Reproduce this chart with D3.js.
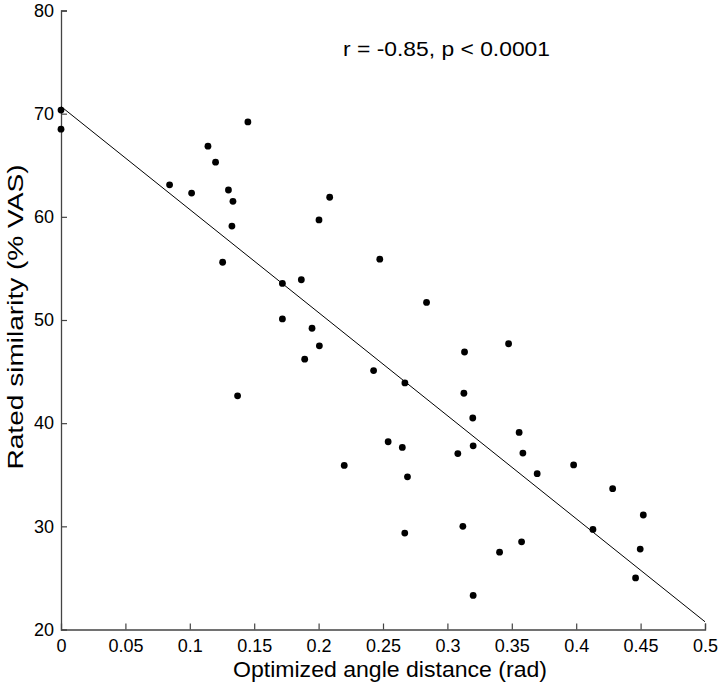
<!DOCTYPE html>
<html>
<head>
<meta charset="utf-8">
<script src="https://cdn.jsdelivr.net/npm/d3@7"></script>
<style>
  html, body { margin: 0; padding: 0; background: #fff; }
  svg { display: block; font-family: "Liberation Sans", Arial, sans-serif; }
</style>
</head>
<body>
<svg id="chart" width="723" height="688"></svg>
<script>
// ---- data ----
const xValues = [0, 0, 0.0843, 0.1014, 0.1141, 0.1200, 0.1451, 0.1300, 0.1335, 0.1327,
  0.1255, 0.1371, 0.2086, 0.2003, 0.2475, 0.1719, 0.1866, 0.2838, 0.1719, 0.1949,
  0.2006, 0.1892, 0.2427, 0.2670, 0.2540, 0.2650, 0.3475, 0.3133, 0.3128, 0.3197,
  0.3557, 0.3586, 0.3200, 0.3081, 0.3697, 0.2199, 0.2690, 0.2669, 0.3120, 0.3576,
  0.3405, 0.3200, 0.3980, 0.4283, 0.4521, 0.4130, 0.4497, 0.4461];
const yValues = [70.35, 68.5, 63.1, 62.3, 66.85, 65.3, 69.2, 62.6, 61.5, 59.1,
  55.6, 42.65, 61.9, 59.7, 55.9, 53.55, 53.9, 51.7, 50.1, 49.2,
  47.5, 46.2, 45.1, 43.9, 38.2, 37.65, 47.7, 46.9, 42.9, 40.5,
  39.1, 37.1, 37.8, 37.05, 35.1, 35.9, 34.8, 29.35, 30.0, 28.5,
  27.5, 23.3, 35.95, 33.65, 31.1, 29.7, 27.8, 25.0];
const fitX = [0, 0.5];
const fitY = [70.7, 20.75];
const xTicks = [0, 0.05, 0.1, 0.15, 0.2, 0.25, 0.3, 0.35, 0.4, 0.45, 0.5];
const yTicks = [20, 30, 40, 50, 60, 70, 80];
const xLabel = "Optimized angle distance (rad)";
const yLabel = "Rated similarity (% VAS)";
const annotation = "r = -0.85, p < 0.0001";

// ---- chart ----
const svg = d3.select("#chart");
const x = d3.scaleLinear().domain([0, 0.5]).range([61, 705]);
const y = d3.scaleLinear().domain([20, 80]).range([629.5, 10.5]);
const axisColor = "#444";

const xAxis = d3.axisBottom(x).tickValues(xTicks).tickSize(-6).tickPadding(16)
  .tickFormat(d => d3.format("")(+d.toFixed(2)));
const yAxis = d3.axisLeft(y).tickValues(yTicks).tickSize(-6).tickPadding(16);

const gx = svg.append("g").attr("transform", `translate(0,${y(20)})`).call(xAxis);
const gy = svg.append("g").attr("transform", `translate(${x(0)},0)`).call(yAxis);

[gx, gy].forEach(g => {
  g.select(".domain").attr("stroke", axisColor).attr("stroke-width", 1.3);
  g.selectAll(".tick line").attr("stroke", axisColor).attr("stroke-width", 1.2);
  g.selectAll(".tick text").attr("fill", "#000")
    .style("font-family", "'Liberation Sans', Arial, sans-serif").style("font-size", "18px");
});
gx.selectAll(".tick text").attr("dy", "0.71em").attr("y", 10);
gy.selectAll(".tick text").attr("x", -7);
// hide ticks that overlap axis lines
gx.selectAll(".tick line").filter(d => d === 0).remove();
gy.selectAll(".tick line").filter(d => d === 20).remove();

// fit line
svg.append("line")
  .attr("x1", x(fitX[0])).attr("y1", y(fitY[0]))
  .attr("x2", x(fitX[1])).attr("y2", y(fitY[1]))
  .attr("stroke", "#000").attr("stroke-width", 1);

// points
svg.append("g").selectAll("circle")
  .data(xValues.map((v, i) => [v, yValues[i]]))
  .join("circle")
  .attr("cx", d => x(d[0])).attr("cy", d => y(d[1]))
  .attr("r", 3.4).attr("fill", "#000");

// annotation
svg.append("text").attr("x", 343).attr("y", 56)
  .attr("textLength", 207).attr("lengthAdjust", "spacingAndGlyphs")
  .style("font-size", "20px").attr("fill", "#000").text(annotation);

// axis titles
svg.append("text").attr("x", 390).attr("y", 677)
  .attr("text-anchor", "middle").attr("textLength", 314).attr("lengthAdjust", "spacingAndGlyphs")
  .style("font-size", "22px").attr("fill", "#000").text(xLabel);
svg.append("text")
  .attr("transform", `translate(23,317) rotate(-90)`)
  .attr("text-anchor", "middle").attr("textLength", 305).attr("lengthAdjust", "spacingAndGlyphs")
  .style("font-size", "22px").attr("fill", "#000").text(yLabel);
</script>
</body>
</html>
